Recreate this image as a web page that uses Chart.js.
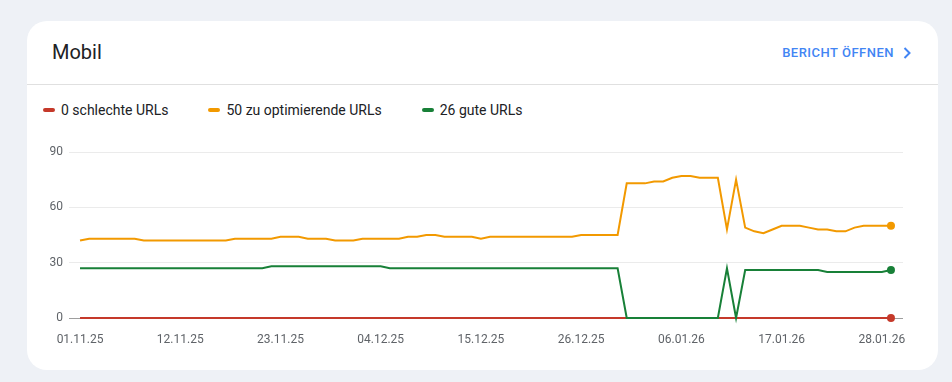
<!DOCTYPE html>
<html>
<head>
<meta charset="utf-8">
<script src="https://cdn.jsdelivr.net/npm/chart.js@4.4.1/dist/chart.umd.min.js"></script>
<style>
  html, body { margin: 0; padding: 0; }
  body { width: 952px; height: 382px; background: #eef1f6; font-family: Roboto, sans-serif; position: relative; overflow: hidden; }
  .card { position: absolute; left: 27px; top: 21px; width: 911px; height: 349px; background: #fff; border-radius: 20px; }
  .title { position: absolute; left: 25px; top: 21px; font-size: 20px; line-height: 20px; color: #202124; }
  .link { position: absolute; right: 27px; top: 25px; font-size: 13px; line-height: 14px; font-weight: 500; color: #4285f4; letter-spacing: 0.5px; display: flex; align-items: center; }
  .link svg { margin-left: 9px; }
  .divider { position: absolute; left: 0; right: 0; top: 63px; height: 1px; background: #e0e0e0; }
  .legend { position: absolute; left: 16px; top: 81px; display: flex; font-size: 14px; line-height: 16px; color: #202124; }
  .legend .item { display: flex; align-items: center; margin-right: 40px; }
  .legend .mark { width: 12px; height: 4px; border-radius: 2px; margin-right: 6px; }
  #chart { position: absolute; left: 0; top: 114px; }
</style>
</head>
<body>
<div class="card">
  <div class="title">Mobil</div>
  <div class="link">BERICHT ÖFFNEN
    <svg width="8" height="12" viewBox="0 0 8 12"><path d="M1.5 1 L6.5 6 L1.5 11" fill="none" stroke="#4285f4" stroke-width="2"/></svg>
  </div>
  <div class="divider"></div>
  <div class="legend" id="legend"></div>
  <canvas id="chart" width="911" height="230"></canvas>
</div>
<script>
const seriesNames = ['0 schlechte URLs', '50 zu optimierende URLs', '26 gute URLs'];
const seriesColors = ['#c5392a', '#f29900', '#188038'];

const tickLabels = ['01.11.25', '12.11.25', '23.11.25', '04.12.25', '15.12.25', '26.12.25', '06.01.26', '17.01.26', '28.01.26'];
const tickIndex = [0, 11, 22, 33, 44, 55, 66, 77, 88];

const poorUrls = [
  0, 0, 0, 0, 0, 0, 0, 0, 0, 0,
  0, 0, 0, 0, 0, 0, 0, 0, 0, 0,
  0, 0, 0, 0, 0, 0, 0, 0, 0, 0,
  0, 0, 0, 0, 0, 0, 0, 0, 0, 0,
  0, 0, 0, 0, 0, 0, 0, 0, 0, 0,
  0, 0, 0, 0, 0, 0, 0, 0, 0, 0,
  0, 0, 0, 0, 0, 0, 0, 0, 0, 0,
  0, 0, 0, 0, 0, 0, 0, 0, 0, 0,
  0, 0, 0, 0, 0, 0, 0, 0, 0, 0
];
const improveUrls = [
  42, 43, 43, 43, 43, 43, 43, 42, 42, 42,
  42, 42, 42, 42, 42, 42, 42, 43, 43, 43,
  43, 43, 44, 44, 44, 43, 43, 43, 42, 42,
  42, 43, 43, 43, 43, 43, 44, 44, 45, 45,
  44, 44, 44, 44, 43, 44, 44, 44, 44, 44,
  44, 44, 44, 44, 44, 45, 45, 45, 45, 45,
  73, 73, 73, 74, 74, 76, 77, 77, 76, 76,
  76, 48, 75, 49, 47, 46, 48, 50, 50, 50,
  49, 48, 48, 47, 47, 49, 50, 50, 50, 50
];
const goodUrls = [
  27, 27, 27, 27, 27, 27, 27, 27, 27, 27,
  27, 27, 27, 27, 27, 27, 27, 27, 27, 27,
  27, 28, 28, 28, 28, 28, 28, 28, 28, 28,
  28, 28, 28, 28, 27, 27, 27, 27, 27, 27,
  27, 27, 27, 27, 27, 27, 27, 27, 27, 27,
  27, 27, 27, 27, 27, 27, 27, 27, 27, 27,
  0, 0, 0, 0, 0, 0, 0, 0, 0, 0,
  0, 27, 0, 26, 26, 26, 26, 26, 26, 26,
  26, 26, 25, 25, 25, 25, 25, 25, 25, 26
];

const allSeries = [poorUrls, improveUrls, goodUrls];

// legend (html)
const legend = document.getElementById('legend');
seriesNames.forEach((name, i) => {
  const item = document.createElement('div');
  item.className = 'item';
  item.innerHTML = '<span class="mark" style="background:' + seriesColors[i] + '"></span>' + name;
  legend.appendChild(item);
});

Chart.defaults.font.family = 'Roboto';
Chart.defaults.color = '#5f6368';

// draw order: green, orange, red on top
const order = [2, 1, 0];
const datasets = order.map(i => {
  const values = allSeries[i];
  const last = values.length - 1;
  return {
    label: seriesNames[i],
    data: values.map((v, idx) => ({ x: idx, y: v })),
    borderColor: seriesColors[i],
    backgroundColor: seriesColors[i],
    borderWidth: 2,
    tension: 0,
    clip: 6,
    pointRadius: ctx => ctx.dataIndex === last ? 4 : 0,
    pointBorderWidth: 0,
    pointHoverRadius: 0
  };
});

new Chart(document.getElementById('chart'), {
  type: 'line',
  data: { datasets },
  options: {
    responsive: false,
    animation: false,
    layout: { padding: { top: 17, right: 35, bottom: 0, left: 0 } },
    plugins: { legend: { display: false }, tooltip: { enabled: false } },
    scales: {
      x: {
        type: 'linear',
        min: -1.21,
        max: 90.32,
        afterBuildTicks: scale => { scale.ticks = tickIndex.map(v => ({ value: v })); },
        afterFit: scale => { scale.height = 47; },
        ticks: {
          autoSkip: false,
          maxRotation: 0,
          padding: 15,
          font: { size: 12 },
          color: '#5f6368',
          callback: value => tickLabels[tickIndex.indexOf(value)]
        },
        grid: { display: false, drawTicks: false },
        border: { display: false }
      },
      y: {
        min: 0,
        max: 90,
        afterFit: scale => { scale.width = 42; },
        ticks: { stepSize: 30, padding: 6, font: { size: 12 }, color: '#5f6368' },
        grid: {
          drawTicks: false,
          color: ctx => ctx.tick && ctx.tick.value === 0 ? '#9e9e9e' : '#ebebeb'
        },
        border: { display: false }
      }
    }
  }
});
</script>
</body>
</html>
